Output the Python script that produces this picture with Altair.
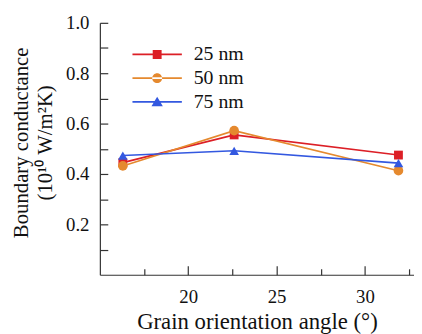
import altair as alt
import pandas as pd

angles = [16.3, 22.6, 31.9]
series_names = ["25 nm", "50 nm", "75 nm"]
g25 = [0.445, 0.555, 0.475]
g50 = [0.432, 0.572, 0.413]
g75 = [0.473, 0.492, 0.443]
colors = ["#dc1f26", "#e5892e", "#3358e0"]
shapes = ["square", "circle", "triangle-up"]

x_major = [20, 25, 30]
x_ticks = [17.5, 20, 22.5, 25, 27.5, 30, 32.5]
y_major = [0.2, 0.4, 0.6, 0.8, 1.0]
y_ticks = [0.1, 0.2, 0.3, 0.4, 0.5, 0.6, 0.7, 0.8, 0.9, 1.0]

rows = []
for name, vals in zip(series_names, [g25, g50, g75]):
    for a, v in zip(angles, vals):
        rows.append({"angle": a, "value": v, "series": name})
df = pd.DataFrame(rows)

FONT = "Liberation Serif"
W, H = 318, 255
XDOM = [15, 32.78]
YDOM = [0, 1.0]

xscale = alt.Scale(domain=XDOM, nice=False, zero=False)
yscale = alt.Scale(domain=YDOM, nice=False)
cscale = alt.Scale(domain=series_names, range=colors)

# legend symbols: line segment with marker (custom paths in unit space)
bar = "M-5,-0.17 L5,-0.17 L5,0.17 L-5,0.17 Z "
leg_paths = [
    bar + "M-0.9,-0.9 L0.9,-0.9 L0.9,0.9 L-0.9,0.9 Z",
    bar + "M-1,0 A1,1 0 1,0 1,0 A1,1 0 1,0 -1,0 Z",
    bar + "M0,-1.05 L1.15,0.9 L-1.15,0.9 Z",
]

layers = []
first = True
for name, shp, sz in zip(series_names, shapes, [80, 95, 95]):
    sub = alt.Chart(df).transform_filter(alt.datum.series == name)
    if first:
        xax = alt.Axis(orient="bottom", values=x_major, ticks=False, tickSize=0,
                       labelPadding=13, title="Grain orientation angle (°)",
                       titlePadding=4, grid=False,
                       labelFont=FONT, titleFont=FONT, labelFontSize=19, titleFontSize=23)
        yax = alt.Axis(orient="left", values=y_major, format=".1f", ticks=False,
                       tickSize=0, labelPadding=11,
                       title=["Boundary conductance", "(10¹⁰ W/m²K)"],
                       titlePadding=10, titleLineHeight=24, titleY=121, grid=False,
                       labelFont=FONT, titleFont=FONT, labelFontSize=19, titleFontSize=21)
        first = False
    else:
        xax = None
        yax = None
    line = sub.mark_line(strokeWidth=1.6).encode(
        x=alt.X("angle:Q", scale=xscale, axis=xax),
        y=alt.Y("value:Q", scale=yscale, axis=yax),
        color=alt.Color("series:N", scale=cscale, legend=None),
    )
    pts = sub.mark_point(filled=True, opacity=1, shape=shp, size=sz).encode(
        x=alt.X("angle:Q", scale=xscale, axis=None),
        y=alt.Y("value:Q", scale=yscale, axis=None),
        color=alt.Color("series:N", scale=cscale, legend=None),
    )
    layers += [line, pts]

leg = alt.Legend(title=None, orient="none", legendX=48, legendY=22,
                 labelFont=FONT, labelFontSize=20, labelColor="#111",
                 labelOffset=27, rowPadding=4, padding=0,
                 symbolStrokeWidth=0, symbolSize=100)

legend_layer = alt.Chart(df).transform_filter("false").mark_point(
    filled=True, opacity=1, size=100, strokeWidth=0
).encode(
    x=alt.X("angle:Q", scale=xscale,
            axis=alt.Axis(orient="top", offset=-H, values=x_ticks, labels=False,
                          domain=False, title=None, grid=False,
                          tickSize={"condition": {"test": "datum.value % 5 == 0", "value": 9}, "value": 6})),
    y=alt.Y("value:Q", scale=yscale,
            axis=alt.Axis(orient="right", offset=-W, values=y_ticks, labels=False,
                          domain=False, title=None, grid=False, tickSize=8)),
    color=alt.Color("series:N", scale=cscale, legend=leg),
    shape=alt.Shape("series:N", scale=alt.Scale(domain=series_names, range=leg_paths),
                    legend=leg),
)

chart = alt.layer(*layers, legend_layer).resolve_axis(
    x="independent", y="independent"
).resolve_legend(
    color="independent", shape="independent"
).properties(
    width=W, height=H,
    padding={"left": 3, "top": 4, "right": 0, "bottom": 0},
).configure_view(stroke=None).configure_axis(
    labelFont=FONT, titleFont=FONT, labelFontSize=19, titleFontSize=21,
    labelColor="#111", titleColor="#111", titleFontWeight="normal",
    domainColor="#333", tickColor="#333", domainWidth=1.2, tickWidth=1.2,
)

chart.save("out.html", embed_options={"renderer": "svg", "actions": False})
